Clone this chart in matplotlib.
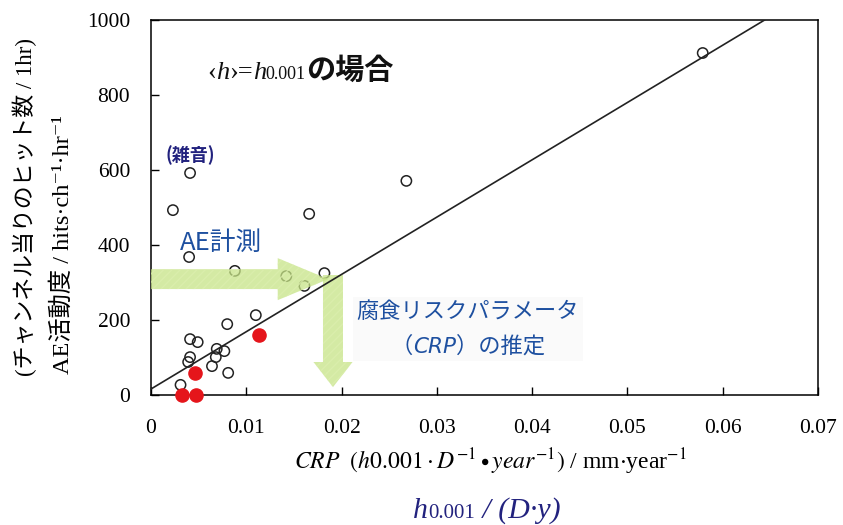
import matplotlib
matplotlib.use("Agg")
import matplotlib.pyplot as plt
from matplotlib.patches import FancyArrow
from matplotlib.offsetbox import TextArea, HPacker, VPacker, AnnotationBbox

plt.rcParams['mathtext.fontset'] = 'stix'

# データ
crp_open = [0.0579, 0.0268, 0.0166, 0.0023, 0.0041, 0.0040, 0.0088, 0.0142, 0.0161, 0.0182,
            0.0110, 0.0080, 0.0041, 0.0049, 0.0069, 0.0077, 0.0068, 0.0041, 0.0039, 0.0064,
            0.0081, 0.0031]
ae_open = [912, 571, 483, 493, 592, 368, 331, 317, 291, 325,
           213, 189, 149, 141, 123, 117, 101, 101, 88, 77,
           59, 27]
crp_red = [0.0113, 0.0046, 0.0033, 0.0047]
ae_red = [160, 59, 0, 0]
fit_intercept = 16
fit_slope = 15280

xticks = [0, 0.01, 0.02, 0.03, 0.04, 0.05, 0.06, 0.07]
xtick_labels = ["0", "0.01", "0.02", "0.03", "0.04", "0.05", "0.06", "0.07"]
yticks = [0, 200, 400, 600, 800, 1000]

W, H = 843, 525
def fx(px):
    return px / W
def fy(py):
    return 1 - py / H

SERIF = 'Liberation Serif'
JP = 'Noto Sans CJK JP'
BLUE = '#1e50a0'
NAVY = '#22227e'

fig = plt.figure(figsize=(W / 100, H / 100), dpi=100)
ax = fig.add_axes([fx(151), fy(395), (818 - 151) / W, (395 - 20) / H])

ax.set_xlim(0, 0.07)
ax.set_ylim(0, 1000)
ax.set_xticks(xticks)
ax.set_xticklabels(xtick_labels)
ax.set_yticks(yticks)
for lab in ax.get_xticklabels() + ax.get_yticklabels():
    lab.set_fontfamily(SERIF)
    lab.set_fontsize(15.5)
ax.tick_params(axis='x', direction='in', length=6, width=1, pad=17)
ax.tick_params(axis='y', direction='in', length=6, width=1, pad=15)
for s in ax.spines.values():
    s.set_linewidth(1.1)

# 回帰直線
ax.axline((0, fit_intercept), slope=fit_slope, color='#222222', lw=1.2, zorder=4)

# 散布点
ax.scatter(crp_open, ae_open, s=55, facecolors='none', edgecolors='#222222',
           linewidths=1.1, zorder=2)
ax.scatter(crp_red, ae_red, s=90, color='#e5151b', zorder=5, clip_on=False)

# 緑の矢印
green = '#c6e386'
ax.add_patch(FancyArrow(0, 309, 0.0186, 0, width=53, head_width=112, head_length=0.0053,
                        length_includes_head=True, facecolor=green, edgecolor='#dcefae',
                        hatch='////', lw=0, alpha=0.75, zorder=3))
ax.add_patch(FancyArrow(0.0191, 320, 0, -299, width=0.0021, head_width=0.0041, head_length=67,
                        length_includes_head=True, facecolor=green, edgecolor='#dcefae',
                        hatch='////', lw=0, alpha=0.75, zorder=3))

def hbox(parts):
    return HPacker(children=[TextArea(t, textprops=p) for t, p in parts],
                   align='baseline', pad=0, sep=0)

def place(box, px, py, align=(0.5, 0.5), **kw):
    ab = AnnotationBbox(box, (fx(px), fy(py)), xycoords='figure fraction',
                        box_alignment=align, annotation_clip=False, **kw)
    fig.add_artist(ab)

# 〈h〉=h0.001の場合
big = dict(family=SERIF, size=19, color='#111111')
big_it = dict(family=SERIF, size=19, style='italic', color='#111111')
small = dict(family=SERIF, size=13, color='#111111')
title = hbox([("‹", big), ("h", big_it), ("›=", big), ("h", big_it), ("0.001", small),
              ("の場合", dict(family=JP, size=21, weight='bold', color='#111111'))])
place(title, 207, 70, align=(0, 0.5), frameon=False)

# (雑音)
ax.text(0.0015, 640, "(雑音)", family=JP, fontsize=13, fontweight='bold', color=NAVY,
        va='center', ha='left', zorder=6)

# AE計測
ax.text(0.0030, 405, "AE計測", family=JP, fontsize=18.5, color=BLUE,
        va='center', ha='left', zorder=6)

# 腐食リスクパラメータ（CRP）の推定
jp_blue = dict(family=JP, size=16, color=BLUE)
line1 = TextArea("腐食リスクパラメータ", textprops=jp_blue)
line2 = hbox([("（", jp_blue),
              ("CRP", dict(family='DejaVu Sans', size=15.5, style='italic', color=BLUE)),
              ("）の推定", jp_blue)])
crp_box = VPacker(children=[line1, line2], align='center', pad=0, sep=8)
place(crp_box, 468, 329, frameon=True,
      bboxprops=dict(facecolor='#fafafa', edgecolor='none', boxstyle='square,pad=0.25'))

# 軸ラベル
fig.text(fx(490), fy(462),
         r"$CRP\ \ (h0.001\cdot D^{-1}\bullet year^{-1})$ / mm$\cdot$year$^{-1}$",
         family=SERIF, fontsize=17, ha='center', va='center')

blue_it = dict(family=SERIF, size=21.5, style='italic', color=NAVY)
bottom = hbox([("h", blue_it), ("0.001", dict(family=SERIF, size=15, color=NAVY)),
               (" / (D·y)", blue_it)])
place(bottom, 487, 511, frameon=False)

ylab_font = [SERIF, JP, 'DejaVu Serif']
fig.text(fx(25), fy(207), "(チャンネル当りのヒット数 / 1hr)", family=ylab_font,
         fontsize=16.5, rotation=90, ha='center', va='center')
fig.text(fx(63), fy(245), "AE活動度 / hits·ch⁻¹·hr⁻¹", family=ylab_font,
         fontsize=17.5, rotation=90, ha='center', va='center')

fig.savefig("out.png", dpi=100)
